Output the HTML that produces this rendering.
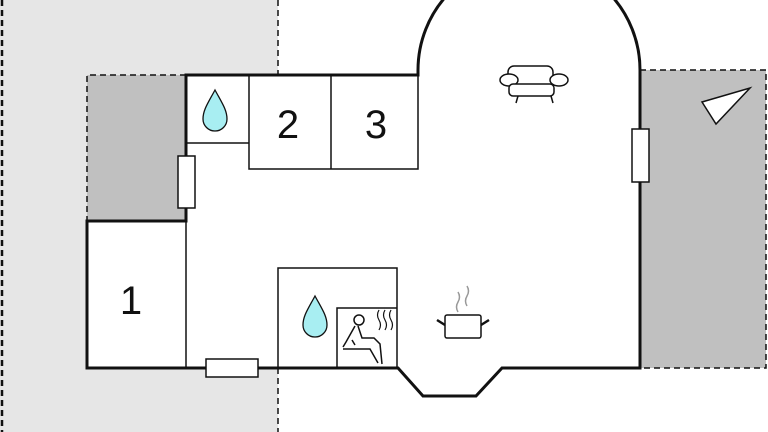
<!DOCTYPE html><html><head><style>body{margin:0}svg{display:block}</style></head><body>
<svg width="768" height="432" viewBox="0 0 768 432" xmlns="http://www.w3.org/2000/svg" font-family="Liberation Sans, sans-serif">
<rect width="768" height="432" fill="#fff"/>
<rect x="0" y="0" width="278" height="432" fill="#e6e6e6"/>
<line x1="2" y1="0" x2="2" y2="432" stroke="#111" stroke-width="2.5" stroke-dasharray="6,4"/>
<line x1="278" y1="0" x2="278" y2="75" stroke="#111" stroke-width="1.5" stroke-dasharray="6,4"/>
<line x1="278" y1="368" x2="278" y2="432" stroke="#111" stroke-width="1.5" stroke-dasharray="6,4"/>
<path d="M186 75 H87 V221 H186" fill="#c0c0c0" stroke="#111" stroke-width="1.5" stroke-dasharray="6,4"/>
<rect x="87" y="221" width="99" height="147" fill="#fff"/>
<path d="M640 70 H766 V368 H640" fill="#c0c0c0" stroke="#111" stroke-width="1.5" stroke-dasharray="6,4"/>
<path d="M186 75 H418 V70 A111 111 0 0 1 640 70 V368 H502 L476 396 H423 L398 368 H186 V221 Z" fill="#fff"/>
<g fill="none" stroke="#111">
<path d="M186 75 H418 V70 A111 111 0 0 1 640 70 V368 H502 L476 396 H423 L398 368 H87 V221 H186 Z" stroke-width="3"/>
<path d="M186 221 V368" stroke-width="1.5"/>
<path d="M186 143 H249 M249 75 V169 H418 V75 M331 75 V169" stroke-width="1.5"/>
<path d="M278 368 V268 H397 V368 M337 368 V308 H397" stroke-width="1.5"/>
</g>
<rect x="178" y="156" width="17" height="52" fill="#fff" stroke="#111" stroke-width="1.5"/>
<rect x="206" y="359" width="52" height="18" fill="#fff" stroke="#111" stroke-width="1.5"/>
<rect x="632" y="129" width="17" height="53" fill="#fff" stroke="#111" stroke-width="1.5"/>
<g fill="#a8eef2" stroke="#111" stroke-width="1.3">
<path d="M215 90 C208 103 203 110 203 119 A12 12 0 0 0 227 119 C227 110 222 103 215 90Z"/>
<path d="M315 296 C308 309 303 316 303 325 A12 12 0 0 0 327 325 C327 316 322 309 315 296Z"/>
</g>
<text x="288" y="138" font-size="40" text-anchor="middle" fill="#111">2</text>
<text x="376" y="138" font-size="40" text-anchor="middle" fill="#111">3</text>
<text x="131" y="314" font-size="40" text-anchor="middle" fill="#111">1</text>
<g fill="none" stroke="#111" stroke-width="1.5">
<circle cx="359" cy="320" r="5"/>
<path d="M355 326 L346 342 L343 347 M343 349 H370 L378 363 M358 326 L362 338 H374 L380 344 L382 364 M352 340 L355 345"/>
<path d="M379 310 q-3 5 0 10 q3 5 0 10 M385 310 q-3 5 0 10 q3 5 0 10 M391 310 q-3 5 0 10 q3 5 0 10" stroke-width="1.2"/>
</g>
<g fill="#fff" stroke="#111" stroke-width="1.5">
<rect x="508" y="66" width="45" height="20" rx="6"/>
<ellipse cx="509" cy="80" rx="9" ry="6"/><ellipse cx="559" cy="80" rx="9" ry="6"/>
<rect x="509" y="84" width="45" height="12" rx="4"/>
<path d="M518 96 L516 103 M551 96 L553 103" fill="none"/>
<rect x="445" y="315" width="36" height="23" rx="2"/>
<path d="M437 320 L445 325 M489 320 L481 325" fill="none" stroke-width="2.5"/>
<path d="M458 312 q-3 -5 0 -10 q3 -5 0 -10 M467 306 q-3 -5 0 -10 q3 -5 0 -10" fill="none" stroke="#999" stroke-width="1.5"/>
<path d="M702 102 L750 88 L716 124 Z"/>
</g>
</svg>
</body></html>
